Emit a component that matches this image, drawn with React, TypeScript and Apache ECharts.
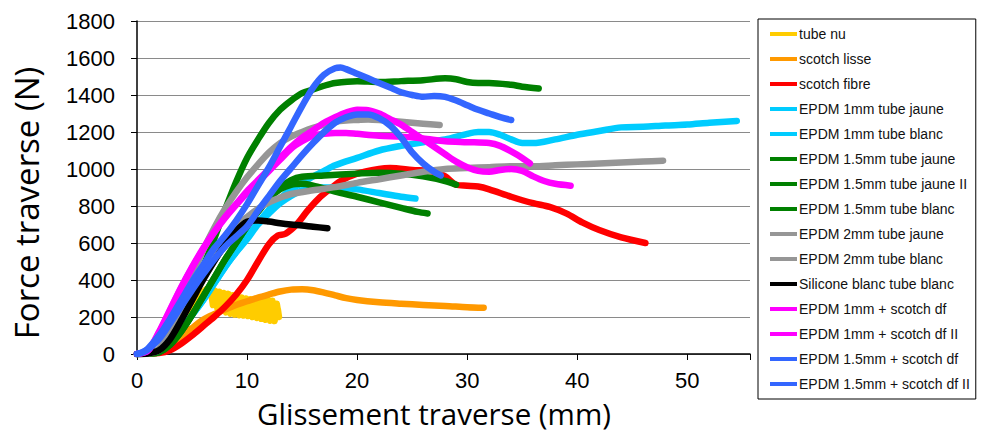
import React, { useEffect, useRef } from "react";
import * as echarts from "echarts";

const SERIES_NAMES = [
  "tube nu",
  "scotch lisse",
  "scotch fibre",
  "EPDM 1mm tube jaune",
  "EPDM 1mm tube blanc",
  "EPDM 1.5mm tube jaune",
  "EPDM 1.5mm tube jaune II",
  "EPDM 1.5mm tube blanc",
  "EPDM 2mm tube jaune",
  "EPDM 2mm tube blanc",
  "Silicone blanc tube blanc",
  "EPDM 1mm + scotch df",
  "EPDM 1mm + scotch df II",
  "EPDM 1.5mm + scotch df",
  "EPDM 1.5mm + scotch df II",
];

const SERIES_COLORS = [
  "#FFCC00", "#FF9900", "#FF0000", "#00CCFF", "#00CCFF",
  "#008000", "#008000", "#008000", "#969696", "#969696",
  "#000000", "#FF00FF", "#FF00FF", "#3366FF", "#3366FF",
];

const X_TICKS = [0, 10, 20, 30, 40, 50];
const Y_TICKS = [0, 200, 400, 600, 800, 1000, 1200, 1400, 1600, 1800];

const tubeNu = [[0,0],[1,3],[2,20],[3,70],[4,150],[5,235],[5.6,295],[6,335],[6.3,350],[6.5,320],[6.7,350],[6.9,265],[7.1,342],[7.3,248],[7.5,336],[7.7,235],[7.9,330],[8.1,225],[8.3,325],[8.5,218],[8.7,318],[8.9,213],[9.1,312],[9.3,210],[9.5,305],[9.7,208],[9.9,300],[10.1,205],[10.3,296],[10.5,200],[10.7,292],[10.9,195],[11.1,290],[11.3,190],[11.5,292],[11.7,185],[11.9,294],[12.1,180],[12.3,288],[12.5,178],[12.7,272],[12.9,200],[12.8,240]];
const scotchLisse = [[0,0],[2,10],[3,40],[4,90],[5,140],[6,185],[7,215],[8,240],[9,265],[10,285],[11,305],[12,322],[13,338],[14,348],[15,350],[16,345],[17,332],[18,317],[19,302],[20,292],[22,280],[24,272],[26,265],[28,260],[30,253],[31.5,250]];
const scotchFibre = [[0,0],[2,5],[3,20],[4,55],[5,100],[6,150],[7,200],[8,255],[9,320],[10,400],[11,500],[12,595],[12.8,640],[13.5,650],[14.5,700],[15.5,775],[16.5,840],[17.5,890],[18.5,935],[20,975],[22,1000],[23,1005],[25,995],[27,985],[28,960],[29,915],[30,910],[31,905],[32,890],[34,850],[36,815],[37.5,795],[39,760],[40.5,710],[42,670],[44,630],[46.2,600]];
const epdm1Jaune = [[0,0],[1,4],[2,15],[3,60],[4,130],[5,210],[6,290],[7,380],[8,470],[9,550],[10,630],[11,710],[12,780],[13,840],[14,890],[15,925],[16,960],[17,990],[18,1020],[20,1060],[22,1100],[24,1125],[26,1145],[28,1160],[30,1190],[31,1200],[32,1200],[33,1185],[34,1160],[35,1140],[36,1140],[38,1160],[40,1185],[42,1205],[44,1225],[46,1228],[48,1235],[50,1240],[52,1250],[54.5,1260]];
const epdm1Blanc = [[0,0],[1,4],[2,15],[3,60],[4,130],[5,210],[6,290],[7,380],[8,470],[9,550],[10,620],[11,700],[12,760],[13,815],[14,855],[15,885],[16,900],[18,900],[20,890],[22,870],[24,850],[25.3,840]];
const epdm15Jaune = [[0,0],[1,5],[2,20],[3,80],[4,190],[5,320],[6,470],[7,620],[8,780],[9,930],[10,1060],[11,1160],[12,1250],[13,1320],[14,1370],[15,1410],[16,1430],[17,1450],[18,1465],[20,1475],[22,1470],[24,1475],[26,1480],[28,1490],[29,1485],[30,1470],[31,1465],[32,1465],[34,1455],[35,1445],[36.5,1435]];
const epdm15JauneII = [[0,0],[1,3],[2,10],[3,50],[4,120],[5,210],[6,310],[7,410],[8,510],[9,600],[10,690],[11,770],[12,840],[13,900],[14,940],[15,958],[17,965],[20,975],[22,980],[24,975],[26,960],[28,935],[29,915]];
const epdm15Blanc = [[0,0],[1,3],[2,10],[3,50],[4,120],[5,210],[6,310],[7,410],[8,510],[9,600],[10,690],[11,770],[12,840],[13,890],[14,915],[15,920],[16,910],[17,895],[18,878],[20,850],[22,820],[24,790],[25.5,768],[26.4,760]];
const epdm2Jaune = [[0,0],[1,5],[2,30],[3,130],[4,270],[5,420],[6,560],[7,680],[8,785],[9,875],[10,955],[11,1025],[12,1090],[13,1140],[14,1175],[15,1200],[16,1222],[17,1240],[18,1255],[19,1262],[20,1265],[21,1268],[22,1265],[24,1255],[26,1245],[27.5,1238]];
const epdm2Blanc = [[0,0],[1,4],[2,20],[3,100],[4,210],[5,330],[6,440],[7,540],[8,620],[9,690],[10,740],[11,785],[12,820],[13,845],[14,865],[16,885],[18,902],[20,925],[22,945],[24,965],[26,985],[28,1000],[30,1005],[32,1010],[34,1015],[36,1015],[38,1020],[40,1025],[42,1030],[44,1035],[46,1040],[47.8,1045]];
const siliconeBlanc = [[0,0],[1,3],[2,20],[3,80],[4,180],[5,290],[6,400],[7,500],[8,590],[9,665],[10,715],[11,722],[12,716],[13,707],[14,700],[15,695],[16,688],[17.3,680]];
const epdm1Scotch = [[0,0],[1,20],[2,120],[3,240],[4,360],[5,470],[6,570],[7,660],[8,740],[9,810],[10,880],[11,940],[12,1000],[13,1060],[14,1120],[15,1170],[16,1210],[17,1250],[18,1280],[19,1305],[20,1320],[21,1318],[22,1300],[23,1270],[24,1240],[25,1200],[26,1160],[27,1120],[28,1080],[29,1040],[30,1010],[31,990],[32,985],[33,995],[34,1000],[35,990],[36,960],[37,935],[38,920],[39.4,910]];
const epdm1ScotchII = [[0,0],[1,18],[2,115],[3,235],[4,355],[5,465],[6,565],[7,655],[8,735],[9,805],[10,870],[11,930],[12,990],[13,1050],[14,1110],[15,1150],[16,1180],[17,1190],[18,1195],[19,1195],[20,1190],[22,1180],[24,1175],[26,1165],[28,1150],[30,1145],[32,1140],[33,1125],[34,1095],[35,1060],[35.7,1030]];
const epdm15Scotch = [[0,0],[0.5,10],[1,30],[2,100],[3,190],[4,290],[5,390],[6,480],[7,570],[8,640],[9,720],[10,810],[11,910],[12,1010],[13,1120],[14,1230],[15,1340],[16,1440],[17,1510],[18,1545],[18.5,1548],[19,1540],[20,1515],[21,1490],[22,1465],[23,1440],[24,1415],[25,1400],[26,1390],[27,1395],[28,1390],[29,1370],[30,1345],[31,1320],[32,1300],[33,1280],[34,1265]];
const epdm15ScotchII = [[0,0],[0.5,8],[1,25],[2,80],[3,165],[4,255],[5,345],[6,430],[7,510],[8,580],[9,635],[10,690],[11,775],[12,855],[13,935],[14,1005],[15,1075],[16,1140],[17,1200],[18,1250],[19,1280],[20,1295],[21,1295],[22,1275],[23,1235],[24,1170],[25,1090],[26,1030],[27,985],[27.6,965]];

const SERIES_DATA = [
  tubeNu, scotchLisse, scotchFibre, epdm1Jaune, epdm1Blanc,
  epdm15Jaune, epdm15JauneII, epdm15Blanc, epdm2Jaune, epdm2Blanc,
  siliconeBlanc, epdm1Scotch, epdm1ScotchII, epdm15Scotch, epdm15ScotchII,
];

export default function App() {
  const ref = useRef<HTMLDivElement>(null);
  useEffect(() => {
    const chart = echarts.init(ref.current as HTMLDivElement, null, { renderer: "svg" });
    chart.setOption({
      animation: false,
      backgroundColor: "#ffffff",
      grid: { left: 137, top: 21, right: 233, bottom: 79, containLabel: false },
      xAxis: {
        type: "value",
        min: 0,
        max: 55.7,
        interval: 10,
        axisLine: { show: true, lineStyle: { color: "#000", width: 1.5 } },
        axisTick: { show: true, inside: false, length: 6, lineStyle: { color: "#000" } },
        axisLabel: {
          margin: 15,
          color: "#000",
          fontFamily: "Liberation Sans, Arial, sans-serif",
          fontSize: 22,
          formatter: (v: number) => (X_TICKS.includes(v) ? String(v) : ""),
        },
        splitLine: { show: false },
      },
      yAxis: {
        type: "value",
        min: 0,
        max: 1800,
        interval: 200,
        axisLine: { show: true, lineStyle: { color: "#000", width: 1.5 } },
        axisTick: { show: true, inside: false, length: 6, lineStyle: { color: "#000" } },
        axisLabel: {
          margin: 22,
          color: "#000",
          fontFamily: "Liberation Sans, Arial, sans-serif",
          fontSize: 22,
          formatter: (v: number) => (Y_TICKS.includes(v) ? String(v) : ""),
        },
        splitLine: { show: true, lineStyle: { color: "#8a8a8a", width: 1.2 } },
      },
      legend: {
        orient: "vertical",
        left: 758,
        top: 19,
        padding: [7, 6, 7, 12],
        icon: "rect",
        itemWidth: 27,
        itemHeight: 4,
        itemGap: 9,
        backgroundColor: "#ffffff",
        borderColor: "#000",
        borderWidth: 1,
        borderRadius: 0,
        textStyle: {
          fontFamily: "Liberation Sans, Arial, sans-serif",
          fontSize: 14,
          lineHeight: 16,
          color: "#111",
          padding: [0, 0, 0, -3],
        },
        data: SERIES_NAMES,
      },
      graphic: [
        {
          type: "text",
          x: 26,
          y: 203,
          rotation: Math.PI / 2,
          style: {
            text: "Force traverse (N)",
            font: "33px 'Open Sans', 'Noto Sans', sans-serif",
            fill: "#000",
            align: "center",
            verticalAlign: "middle",
          },
        },
        {
          type: "text",
          x: 434,
          y: 413,
          style: {
            text: "Glissement traverse (mm)",
            font: "29.5px 'Open Sans', 'Noto Sans', sans-serif",
            fill: "#000",
            align: "center",
            verticalAlign: "middle",
          },
        },
      ],
      series: SERIES_NAMES.map((name, i) => ({
        name,
        type: "line",
        data: SERIES_DATA[i],
        symbol: "none",
        showSymbol: false,
        smooth: i === 0 ? false : 0.3,
        color: SERIES_COLORS[i],
        lineStyle: { width: 6.5, color: SERIES_COLORS[i], cap: "round", join: "round" },
      })),
    });
    return () => chart.dispose();
  }, []);
  return (
    <div
      ref={ref}
      style={{ position: "absolute", left: 0, top: 0, width: 983, height: 433 }}
    />
  );
}
